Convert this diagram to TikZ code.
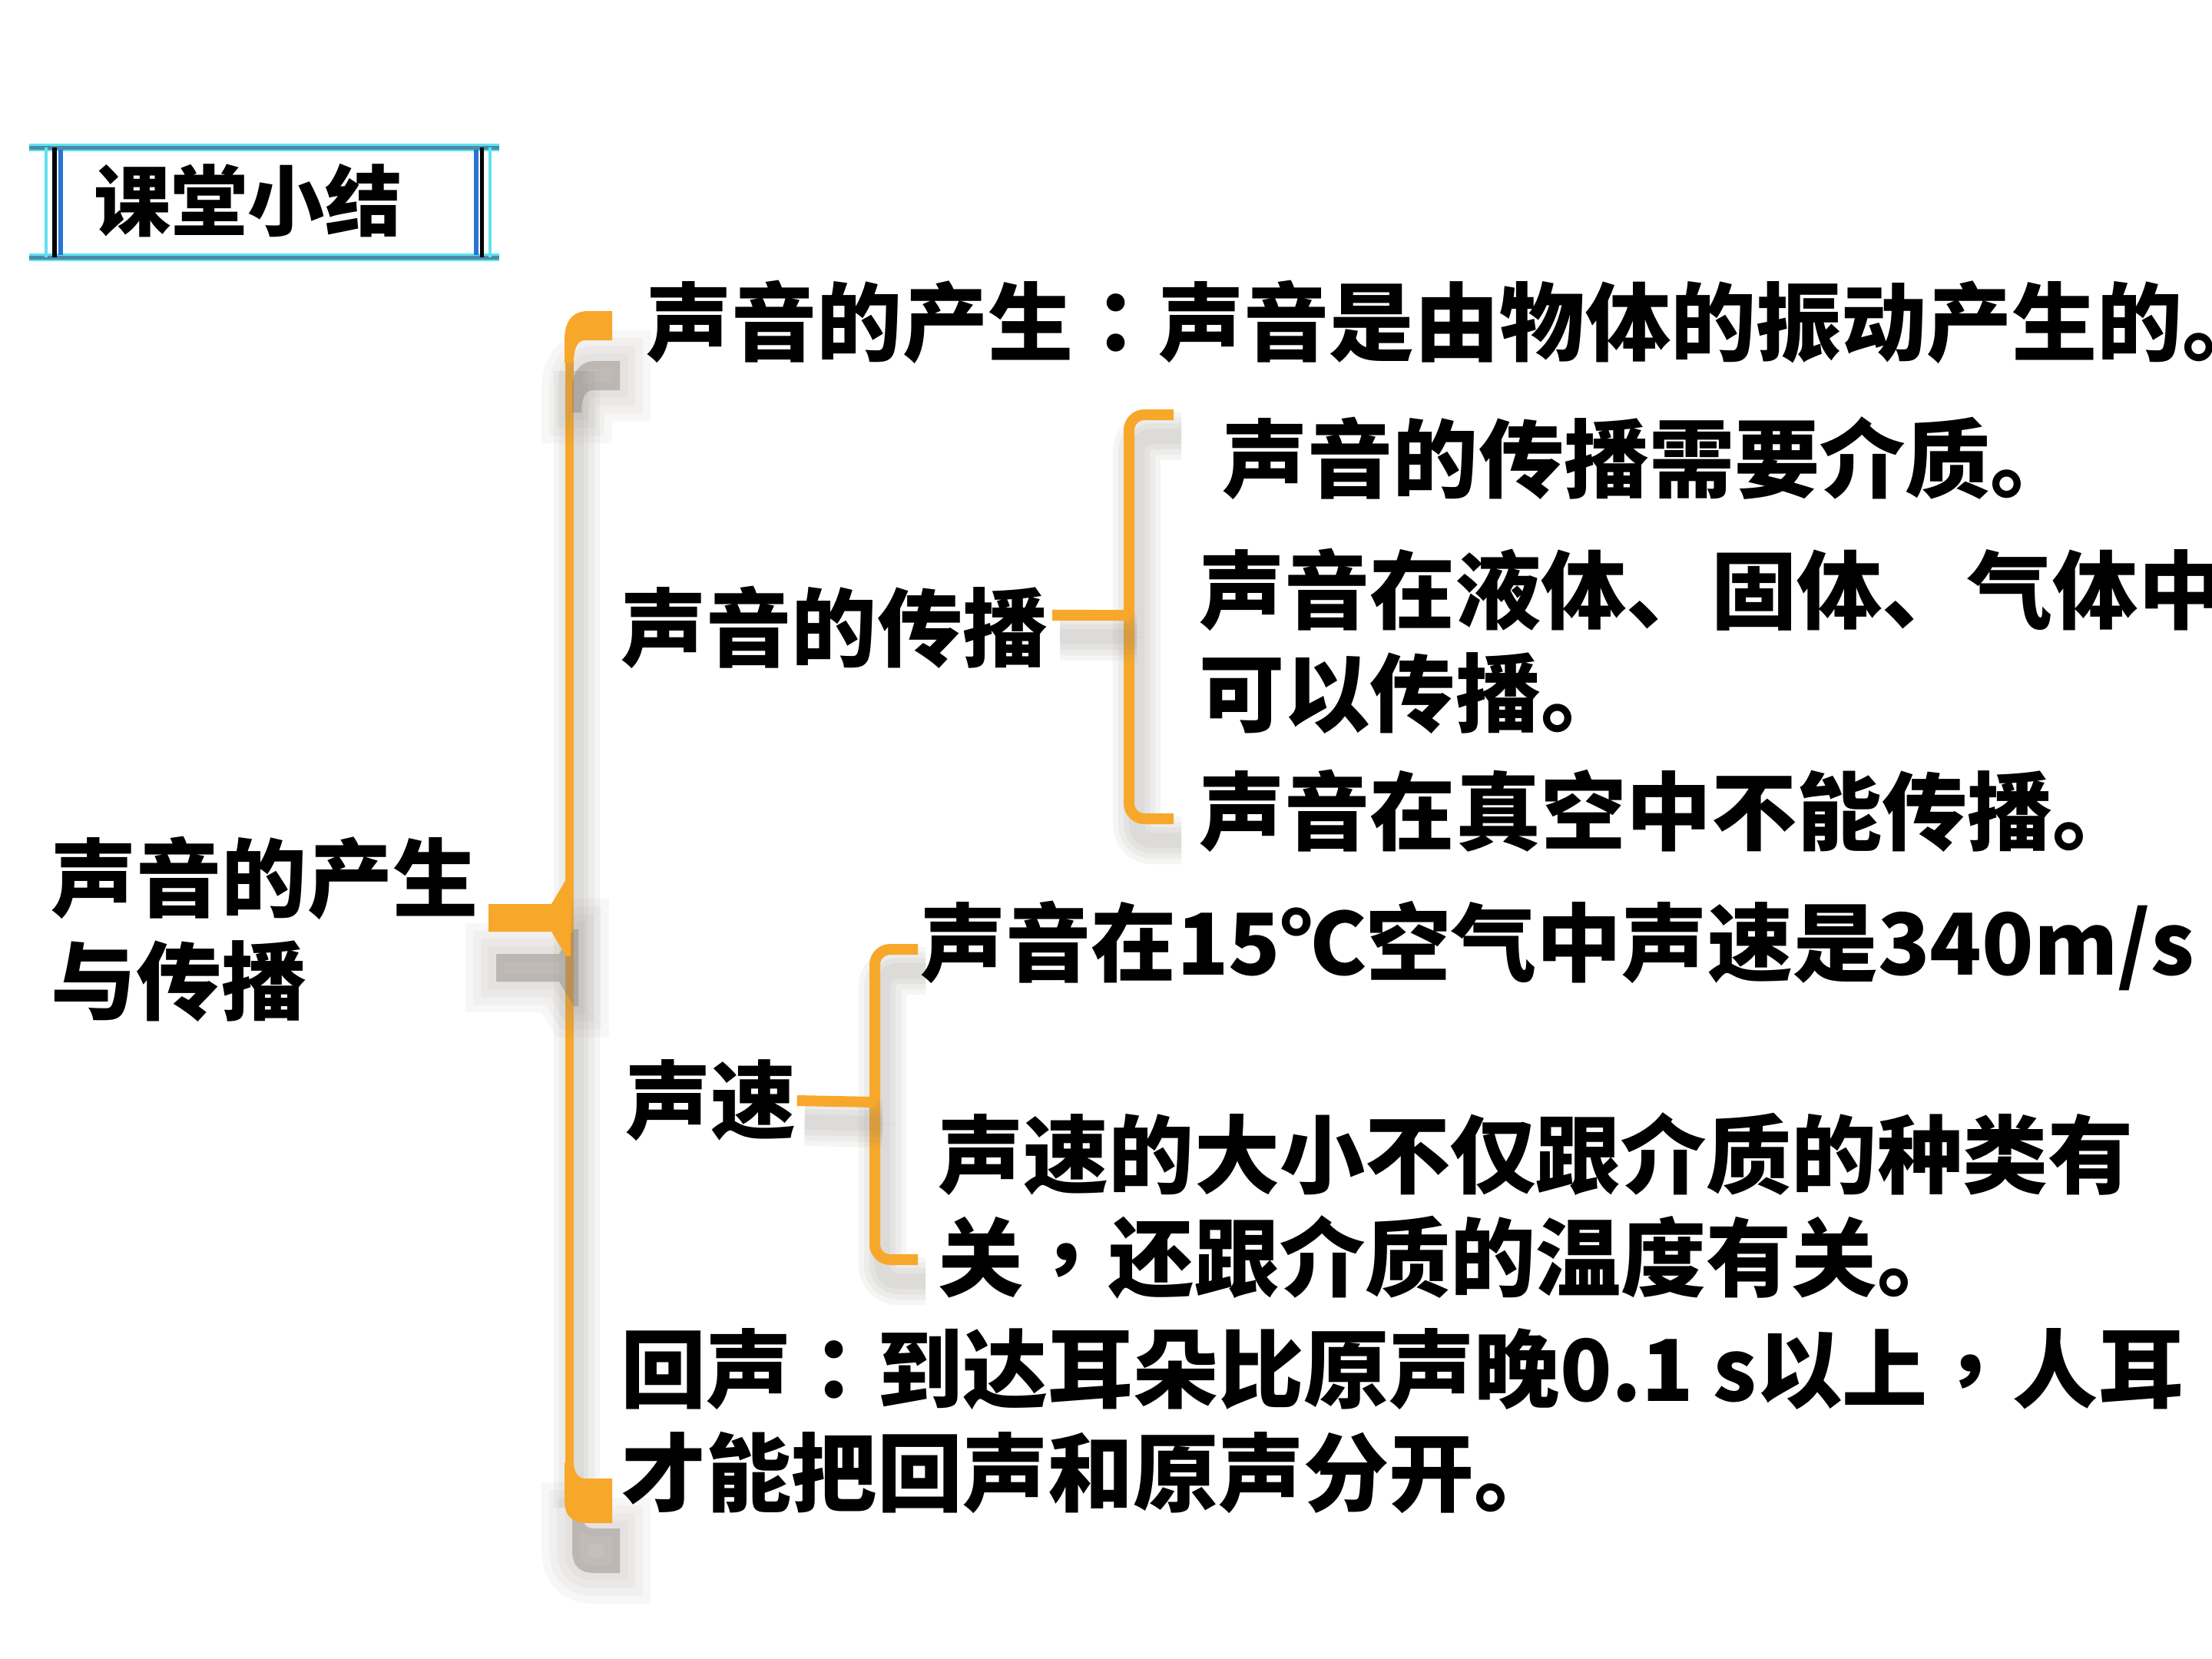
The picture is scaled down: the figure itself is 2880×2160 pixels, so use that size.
\documentclass[tikz,border=0pt]{standalone}
\usepackage{fontspec}
\newfontfamily\cjk{Noto Sans CJK SC}
\newfontfamily\cjkpunct{Noto Sans CJK TC}
\newcommand\midcolon{{\cjkpunct\bfseries ：}}
\newcommand\midcomma{{\cjkpunct\bfseries ，}}
\usepackage{tikz}
\definecolor{braceorange}{HTML}{F7A82B}
\definecolor{shadowgray}{HTML}{8C837B}
\definecolor{frameteal}{HTML}{4A8CA6}
\definecolor{framecyan}{HTML}{5FE3F2}
\definecolor{frameblue}{HTML}{2A72D6}

\begin{document}
\begin{tikzpicture}[
  x=0.01cm,y=-0.01cm,
  txt/.style={anchor=west,inner sep=0pt,align=left,font=\cjk\bfseries\fontsize{31.6pt}{38.2pt}\selectfont},
  heading/.style={inner sep=0pt,font=\cjk\bfseries\fontsize{28.5pt}{34pt}\selectfont},
  frameedge/.style={draw=frameteal,line width=0.05cm,preaction={draw=framecyan,line width=0.1cm}},
  ring/.style={preaction={draw=shadowgray,draw opacity=0.08,line width=#1,transform canvas={shift={(0.1cm,-0.28cm)}}}},
  bigring/.style={preaction={fill=shadowgray,fill opacity=0.13,draw=shadowgray,draw opacity=0.06,line width=#1,transform canvas={shift={(0.1cm,-0.65cm)}}}},
  brace/.style={draw=braceorange,line width=0.14cm,rounded corners=0.2cm,
    ring=0.62cm,ring=0.48cm,ring=0.34cm,ring=0.2cm},
  link/.style={brace,rounded corners=0pt},
  bigline/.style={draw=braceorange,line width=0.11cm,
    ring=0.6cm,ring=0.45cm,ring=0.3cm,ring=0.18cm},
  bigfill/.style={fill=braceorange,
    bigring=0.8cm,bigring=0.6cm,bigring=0.4cm,bigring=0.2cm}
]
\useasboundingbox (0,0) rectangle (2880,2160);
\clip (0,0) rectangle (2880,2160);
\fill[white] (0,0) rectangle (2880,2160);

% title frame
\draw[frameedge] (38,192) -- (650,192);
\draw[frameedge] (38,335) -- (650,335);
\draw[framecyan,line width=0.04cm] (60,192) -- (60,335);
\draw[black,line width=0.05cm] (71,192) -- (71,335);
\draw[frameblue,line width=0.06cm] (79,195) -- (79,332);
\draw[frameblue,line width=0.06cm] (620,195) -- (620,332);
\draw[black,line width=0.05cm] (627,192) -- (627,335);
\draw[framecyan,line width=0.04cm] (638,192) -- (638,335);
\node[heading] (title) at (323,261) {课堂小结};

% big brace
\coordinate (bigcusp) at (741,1195);
\draw[bigline] (741,455) -- (741,1935);
\fill[bigfill] (735,472) -- (735,440) .. controls (736,418) and (745,405) .. (766,405)
  -- (797,405) -- (797,443) -- (762,443) .. controls (751,443) and (747,455) .. (747,472) -- cycle;
\fill[bigfill] (735,1905) -- (735,1955) .. controls (736,1975) and (745,1983) .. (766,1983)
  -- (797,1983) -- (797,1925) -- (762,1925) .. controls (752,1925) and (747,1915) .. (747,1905) -- cycle;

% propagation brace
\coordinate (propcusp) at (1470,801);
\draw[brace] (1528,540) -- (1470,540) -- (propcusp);
\draw[brace] (propcusp) -- (1470,1066) -- (1528,1066);

% speed brace
\coordinate (speedcusp) at (1139,1435);
\draw[brace] (1195,1236) -- (1139,1236) -- (speedcusp);
\draw[brace] (speedcusp) -- (1139,1640) -- (1195,1640);

% texts
\node[txt] (root) at (66,1210) {声音的产生\\与传播};
\node[txt] (gen) at (841,419) {声音的产生\midcolon 声音是由物体的振动产生的。};
\node[txt] (prop) at (808,817) {声音的传播};
\node[txt] (medium) at (1591,597) {声音的传播需要介质。};
\node[txt] (states) at (1561,835) {声音在液体、固体、气体中\\可以传播。};
\node[txt] (vacuum) at (1561,1056) {声音在真空中不能传播。};
\node[txt] (speed) at (814,1433) {声速};
\node[txt] (v340) at (1198,1231) {声音在15℃空气中声速是340m/s};
\node[txt] (factor) at (1221,1570) {声速的大小不仅跟介质的种类有\\关\midcomma 还跟介质的温度有关。};
\node[txt] (echo) at (808,1850) {回声\midcolon 到达耳朵比原声晚0.1 s以上\midcomma 人耳\\才能把回声和原声分开。};

% connectors into the braces
\coordinate (rootout) at ([xshift=0.13cm,yshift=0.15cm]root.east);
\fill[bigfill] (rootout) ++(0,-18) -- (718,1177) -- (737,1145) -- (743,1145) -- (743,1245)
  -- (737,1245) -- (718,1213) -- ([yshift=-0.18cm]rootout) -- cycle;
\draw[link] ([xshift=0.05cm,yshift=0.16cm]prop.east) -- (propcusp);
\draw[link] (speed.east) -- (speedcusp);
\end{tikzpicture}
\end{document}
